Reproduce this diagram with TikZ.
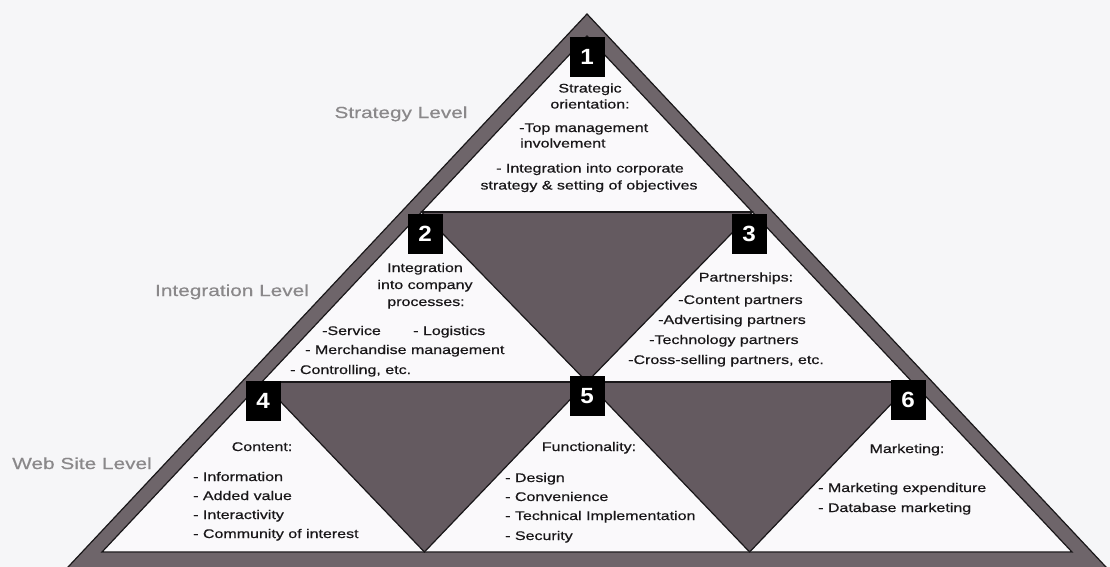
\documentclass[tikz,border=0pt]{standalone}
\usepackage{fontspec}
\setmainfont{Liberation Sans}
\newfontfamily\txtfont[FakeStretch=1.28,FakeBold=0.6]{Liberation Sans}
\newfontfamily\lvlfont[FakeStretch=1.3,FakeBold=0.4]{Liberation Sans}
\newfontfamily\numfont[FakeStretch=1.1]{Liberation Sans}
\definecolor{bandgray}{RGB}{110,101,106}
\definecolor{darkfill}{RGB}{100,90,96}
\definecolor{bgc}{RGB}{246,246,248}
\definecolor{whitefill}{RGB}{250,249,251}
\definecolor{lvlgray}{RGB}{138,136,138}
\definecolor{ink}{RGB}{25,23,25}
\begin{document}
\begin{tikzpicture}[x=1pt,y=-1pt,
  numbox/.style={fill=black, text=white, minimum width=35pt, minimum height=40pt, inner sep=0pt, font=\numfont\bfseries\fontsize{22}{22}\selectfont},
  body/.style={text=ink, font=\txtfont\fontsize{12.5}{17}\selectfont, inner sep=0pt},
  bodyc/.style={body, anchor=base},
  bodyl/.style={body, anchor=base west},
  lvl/.style={text=lvlgray, font=\lvlfont\fontsize{16}{18}\selectfont, inner sep=0pt, anchor=base},
  outline/.style={draw=ink, line width=1.2pt, line join=miter}]
\useasboundingbox (0,0) rectangle (1110,567);
\fill[bgc] (0,0) rectangle (1110,567);
% geometry
\coordinate (OA) at (587,14);
\coordinate (OL) at (54,582);
\coordinate (OR) at (1120,582);
\coordinate (IA) at (587,36);
\coordinate (IL) at (102,552);
\coordinate (IR) at (1072,552);
\coordinate (L1) at (421.6,212);
\coordinate (R1) at (752.4,212);
\coordinate (L2) at (261.8,382);
\coordinate (R2) at (912.2,382);
\coordinate (M2) at (587,382);
\coordinate (B1) at (424.4,552);
\coordinate (B2) at (749.6,552);
\begin{scope}
\clip (0,0) rectangle (1110,567);
\filldraw[fill=bandgray, outline] (OA) -- (OR) -- (OL) -- cycle;
\filldraw[fill=whitefill, outline] (IA) -- (IR) -- (IL) -- cycle;
\filldraw[fill=darkfill, outline] (L1) -- (R1) -- (M2) -- cycle;
\filldraw[fill=darkfill, outline] (L2) -- (M2) -- (B1) -- cycle;
\filldraw[fill=darkfill, outline] (M2) -- (R2) -- (B2) -- cycle;
\draw[outline] (L1) -- (R1);
\draw[outline] (L2) -- (R2);
\end{scope}
% number boxes
\node[numbox] (n1) at (587,57) {1};
\node[numbox] (n2) at (425,234) {2};
\node[numbox] (n3) at (749,234) {3};
\node[numbox] (n4) at (263,401) {4};
\node[numbox] (n5) at (587,396) {5};
\node[numbox] (n6) at (908,400) {6};
% level labels
\node[lvl] (lv1) at (401,118) {Strategy Level};
\node[lvl] (lv2) at (232,296) {Integration Level};
\node[lvl] (lv3) at (82,469) {Web Site Level};
% triangle 1
\node[bodyc] (s1) at (590,92.5) {Strategic};
\node[bodyc] (s2) at (590,108.5) {orientation:};
\node[bodyl] (s3) at (519,132) {-Top management};
\node[bodyl] (s4) at (520,147.5) {involvement};
\node[bodyc] (s5) at (590,172.5) {- Integration into corporate};
\node[bodyc] (s6) at (589,189.5) {strategy \& setting of objectives};
% triangle 2
\node[bodyc] (i1) at (425,272) {Integration};
\node[bodyc] (i2) at (425,289) {into company};
\node[bodyc] (i3) at (426,306) {processes:};
\node[bodyl] (i4) at (322,335) {-Service};
\node[bodyl] (i5) at (413,335) {- Logistics};
\node[bodyl] (i6) at (305,354) {- Merchandise management};
\node[bodyl] (i7) at (290,374) {- Controlling, etc.};
% triangle 3
\node[bodyc] (p1) at (746,281.5) {Partnerships:};
\node[bodyl] (p2) at (678,304) {-Content partners};
\node[bodyl] (p3) at (658,324) {-Advertising partners};
\node[bodyl] (p4) at (649,344) {-Technology partners};
\node[bodyl] (p5) at (628,364) {-Cross-selling partners, etc.};
% triangle 4
\node[bodyc] (c1) at (262,451) {Content:};
\node[bodyl] (c2) at (193,481) {- Information};
\node[bodyl] (c3) at (193,500) {- Added value};
\node[bodyl] (c4) at (193,519) {- Interactivity};
\node[bodyl] (c5) at (193,538) {- Community of interest};
% triangle 5
\node[bodyc] (f1) at (589,451) {Functionality:};
\node[bodyl] (f2) at (505,482) {- Design};
\node[bodyl] (f3) at (505,501) {- Convenience};
\node[bodyl] (f4) at (505,520) {- Technical Implementation};
\node[bodyl] (f5) at (505,540) {- Security};
% triangle 6
\node[bodyc] (m1) at (907,453) {Marketing:};
\node[bodyl] (m2) at (818,492) {- Marketing expenditure};
\node[bodyl] (m3) at (818,512) {- Database marketing};
\end{tikzpicture}
\end{document}
